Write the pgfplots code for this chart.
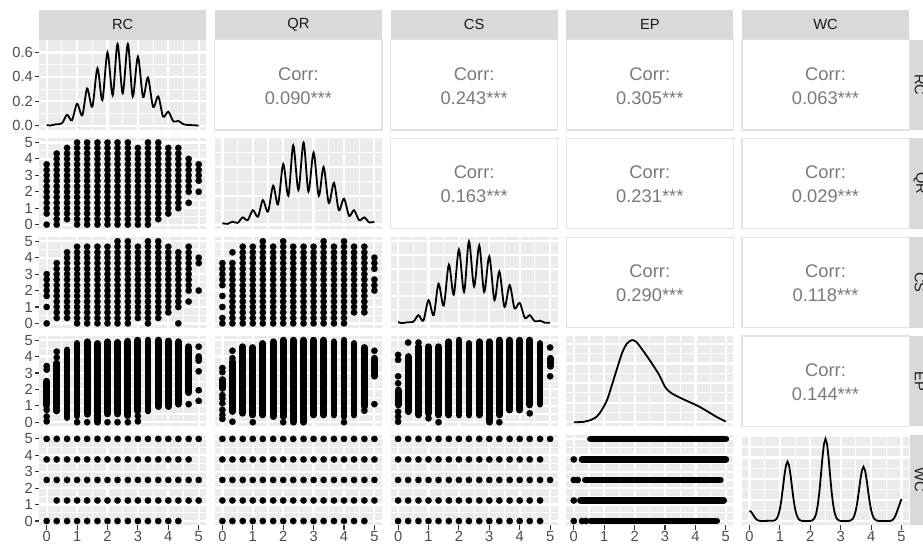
\documentclass[border=0pt]{standalone}
\usepackage{fontspec}
\setmainfont{Liberation Sans}
\usepackage{pgfplots}
\pgfplotsset{compat=1.18}

\definecolor{panelbg}{HTML}{EBEBEB}
\definecolor{stripbg}{HTML}{D9D9D9}
\definecolor{striptext}{HTML}{1A1A1A}
\definecolor{ticklab}{HTML}{4D4D4D}
\definecolor{tickcol}{HTML}{333333}
\definecolor{corrtext}{HTML}{7A7A7A}
\definecolor{corrframe}{HTML}{E2E2E2}

\pgfplotsset{
  cell/.style={
    scale only axis, width=167.2pt, height=90.3pt, anchor=north west,
    xmin=-0.25, xmax=5.25, ymin=-0.25, ymax=5.25,
    axis line style={draw=none},
    xtick={0,1,2,3,4,5}, ytick={0,1,2,3,4,5},
    minor xtick={0.5,1.5,2.5,3.5,4.5}, minor ytick={0.5,1.5,2.5,3.5,4.5},
    xticklabels={}, yticklabels={},
    xmajorticks=false, ymajorticks=false, xminorticks=false, yminorticks=false,
    xmajorgrids=true, ymajorgrids=true, xminorgrids=true, yminorgrids=true,
    major grid style={white, line width=2.2pt},
    minor grid style={white, line width=1.1pt},
    axis background/.style={fill=panelbg},
    tick align=outside, major tick length=4.6pt, minor tick length=0pt,
    tick style={tickcol, line width=1.1pt},
    ticklabel style={font=\fontsize{14.7}{17}\selectfont, text=ticklab, inner sep=1.5pt},
  },
  % density cells keep their own y grid
  diag/.style={yminorticks=false},
  leftcol/.style={ymajorticks=true, ytick pos=left, yticklabels={0,1,2,3,4,5}},
  bottomrow/.style={xmajorticks=true, xtick pos=bottom, xticklabels={0,1,2,3,4,5}},
  corrcell/.style={
    scale only axis, width=167.2pt, height=90.3pt, anchor=north west,
    xmin=0, xmax=1, ymin=0, ymax=1, xtick=\empty, ytick=\empty,
    axis line style={corrframe, line width=1.2pt},
    axis background/.style={fill=white},
  },
  dots/.style={only marks, mark=*, mark size=3.2pt,
    mark options={fill=black, draw=black, line width=0.2pt}},
  bars/.style={no marks, black, line width=6.8pt, line cap=round, unbounded coords=jump},
  dens/.style={no marks, black, line width=1.8pt},
}
\tikzset{
  corrlabel/.style={font=\fontsize{18.3}{20}\selectfont, text=corrtext, inner sep=0pt},
  striplabel/.style={font=\fontsize{14.7}{17}\selectfont, text=striptext},
}

% upper-triangle correlation cell: left edge, top edge, coefficient text
\newcommand\corrpanel[3]{%
  \begin{axis}[corrcell, at={(#1pt,-#2pt)}]
    \addplot[draw=none, forget plot] coordinates {(0.5,0.5)};
    \node[corrlabel, yshift=11pt] at (rel axis cs:0.5,0.5) {Corr:};
    \node[corrlabel, yshift=-13pt] at (rel axis cs:0.5,0.5) {#3};
  \end{axis}}

\begin{document}
\begin{tikzpicture}
\useasboundingbox (0pt,0pt) rectangle (923pt,-547pt);

% column strips
\foreach \cl/\lab in {39.1/RC, 214.8/QR, 390.5/CS, 566.2/EP, 741.9/WC} {
  \fill[stripbg] (\cl pt,-10pt) rectangle ({\cl pt+167.2pt},-39.6pt);
  \node[striplabel] at ({\cl pt+83.6pt},-24.8pt) {\lab};
}
% row strips, cut at the right edge
\begin{scope}
\clip (909pt,0pt) rectangle (923pt,-547pt);
\foreach \rt/\lab in {39.6/RC, 138.4/QR, 237.2/CS, 336.0/EP, 434.8/WC} {
  \fill[stripbg] (909.6pt,-\rt pt) rectangle (923pt,{-\rt pt-90.3pt});
  \node[striplabel, rotate=-90, overlay] at (920pt,{-\rt pt-45.15pt}) {\lab};
}
\end{scope}

%================ row 1 ================
\begin{axis}[cell, leftcol, at={(39.1pt,-39.6pt)},
  ymin=-0.034, ymax=0.705, ytick={0,0.2,0.4,0.6}, minor ytick={0.1,0.3,0.5}, diag,
  yticklabels={0.0,0.2,0.4,0.6}]
  \addplot[dens, smooth] coordinates {
    (0,0.006) (0.12,0.002) (0.3,0.012) (0.5,0.02) (0.67,0.09) (0.83,0.045)
    (1,0.18) (1.17,0.085) (1.33,0.305) (1.5,0.155) (1.67,0.47) (1.83,0.21)
    (2,0.6) (2.17,0.25) (2.33,0.67) (2.5,0.265) (2.67,0.67) (2.83,0.24)
    (3,0.565) (3.17,0.235) (3.33,0.395) (3.5,0.155) (3.67,0.24) (3.83,0.075)
    (4,0.115) (4.17,0.035) (4.33,0.04) (4.5,0.012) (4.7,0.006) (5,0.002)};
\end{axis}
\corrpanel{214.8}{39.6}{0.090***}
\corrpanel{390.5}{39.6}{0.243***}
\corrpanel{566.2}{39.6}{0.305***}
\corrpanel{741.9}{39.6}{0.063***}

%================ row 2 ================
\begin{axis}[cell, leftcol, at={(39.1pt,-138.4pt)}]
  \addplot[dots] coordinates {
    (0,0) (0,0.67) (0,1) (0,1.33) (0,1.67) (0,2) (0,2.33) (0,2.67) (0,3) (0,3.33) (0,3.67)
    (0.33,0) (0.33,0.33) (0.33,0.67) (0.33,1) (0.33,1.33) (0.33,1.67) (0.33,2) (0.33,2.33) (0.33,2.67) (0.33,3) (0.33,3.33) (0.33,3.67) (0.33,4) (0.33,4.33)
    (0.67,0.33) (0.67,0.67) (0.67,1) (0.67,1.33) (0.67,1.67) (0.67,2) (0.67,2.33) (0.67,2.67) (0.67,3) (0.67,3.33) (0.67,3.67) (0.67,4) (0.67,4.33) (0.67,4.67)
    (1,0) (1,0.33) (1,0.67) (1,1) (1,1.33) (1,1.67) (1,2) (1,2.33) (1,2.67) (1,3) (1,3.33) (1,3.67) (1,4) (1,4.33) (1,4.67) (1,5)
    (1.33,0) (1.33,0.33) (1.33,0.67) (1.33,1) (1.33,1.33) (1.33,1.67) (1.33,2) (1.33,2.33) (1.33,2.67) (1.33,3) (1.33,3.33) (1.33,3.67) (1.33,4) (1.33,4.33) (1.33,4.67) (1.33,5)
    (1.67,0) (1.67,0.33) (1.67,0.67) (1.67,1) (1.67,1.33) (1.67,1.67) (1.67,2) (1.67,2.33) (1.67,2.67) (1.67,3) (1.67,3.33) (1.67,3.67) (1.67,4) (1.67,4.33) (1.67,4.67) (1.67,5)
    (2,0) (2,0.33) (2,0.67) (2,1) (2,1.33) (2,1.67) (2,2) (2,2.33) (2,2.67) (2,3) (2,3.33) (2,3.67) (2,4) (2,4.33) (2,4.67) (2,5)
    (2.33,0) (2.33,0.33) (2.33,0.67) (2.33,1) (2.33,1.33) (2.33,1.67) (2.33,2) (2.33,2.33) (2.33,2.67) (2.33,3) (2.33,3.33) (2.33,3.67) (2.33,4) (2.33,4.33) (2.33,4.67) (2.33,5)
    (2.67,0) (2.67,0.33) (2.67,0.67) (2.67,1) (2.67,1.33) (2.67,1.67) (2.67,2) (2.67,2.33) (2.67,2.67) (2.67,3) (2.67,3.33) (2.67,3.67) (2.67,4) (2.67,4.33) (2.67,4.67) (2.67,5)
    (3,0) (3,0.33) (3,0.67) (3,1) (3,1.33) (3,1.67) (3,2) (3,2.33) (3,2.67) (3,3) (3,3.33) (3,3.67) (3,4) (3,4.33) (3,4.67)
    (3.33,0) (3.33,0.33) (3.33,0.67) (3.33,1) (3.33,1.33) (3.33,1.67) (3.33,2) (3.33,2.33) (3.33,2.67) (3.33,3) (3.33,3.33) (3.33,3.67) (3.33,4) (3.33,4.33) (3.33,4.67) (3.33,5)
    (3.67,0.33) (3.67,0.67) (3.67,1) (3.67,1.33) (3.67,1.67) (3.67,2) (3.67,2.33) (3.67,2.67) (3.67,3) (3.67,3.33) (3.67,3.67) (3.67,4) (3.67,4.33) (3.67,4.67) (3.67,5)
    (4,0.67) (4,1) (4,1.33) (4,1.67) (4,2) (4,2.33) (4,2.67) (4,3) (4,3.33) (4,3.67) (4,4) (4,4.33) (4,4.67)
    (4.33,1) (4.33,1.33) (4.33,1.67) (4.33,2) (4.33,2.33) (4.33,2.67) (4.33,3) (4.33,3.33) (4.33,3.67) (4.33,4) (4.33,4.33) (4.33,4.67)
    (4.67,1.33) (4.67,2) (4.67,2.33) (4.67,2.67) (4.67,3) (4.67,3.33) (4.67,3.67) (4.67,4)
    (5,2) (5,2.67) (5,3) (5,3.33) (5,3.67)};
\end{axis}
\begin{axis}[cell, at={(214.8pt,-138.4pt)},
  ymin=-0.0285, ymax=0.5985, ytick={0,0.2,0.4}, minor ytick={0.1,0.3,0.5}, diag]
  \addplot[dens, smooth] coordinates {
    (0,0.01) (0.17,0.005) (0.33,0.02) (0.5,0.012) (0.67,0.05) (0.83,0.03)
    (1,0.10) (1.17,0.055) (1.33,0.17) (1.5,0.09) (1.67,0.27) (1.83,0.14)
    (2,0.42) (2.17,0.2) (2.33,0.55) (2.5,0.24) (2.67,0.57) (2.83,0.23)
    (3,0.50) (3.17,0.2) (3.33,0.40) (3.5,0.15) (3.67,0.29) (3.83,0.1)
    (4,0.18) (4.17,0.06) (4.33,0.10) (4.5,0.03) (4.67,0.05) (4.83,0.015) (5,0.02)};
\end{axis}
\corrpanel{390.5}{138.4}{0.163***}
\corrpanel{566.2}{138.4}{0.231***}
\corrpanel{741.9}{138.4}{0.029***}

%================ row 3 ================
\begin{axis}[cell, leftcol, at={(39.1pt,-237.2pt)}]
  \addplot[dots] coordinates {
    (0,0) (0,1) (0,1.67) (0,2) (0,2.33) (0,2.67) (0,3)
    (0.33,0.33) (0.33,0.67) (0.33,1) (0.33,1.33) (0.33,1.67) (0.33,2) (0.33,2.33) (0.33,2.67) (0.33,3) (0.33,3.33) (0.33,3.67)
    (0.67,0.33) (0.67,0.67) (0.67,1) (0.67,1.33) (0.67,1.67) (0.67,2) (0.67,2.33) (0.67,2.67) (0.67,3) (0.67,3.33) (0.67,3.67) (0.67,4) (0.67,4.33)
    (1,0) (1,0.33) (1,0.67) (1,1) (1,1.33) (1,1.67) (1,2) (1,2.33) (1,2.67) (1,3) (1,3.33) (1,3.67) (1,4) (1,4.33) (1,4.67)
    (1.33,0) (1.33,0.33) (1.33,0.67) (1.33,1) (1.33,1.33) (1.33,1.67) (1.33,2) (1.33,2.33) (1.33,2.67) (1.33,3) (1.33,3.33) (1.33,3.67) (1.33,4) (1.33,4.33) (1.33,4.67)
    (1.67,0) (1.67,0.33) (1.67,0.67) (1.67,1) (1.67,1.33) (1.67,1.67) (1.67,2) (1.67,2.33) (1.67,2.67) (1.67,3) (1.67,3.33) (1.67,3.67) (1.67,4) (1.67,4.33) (1.67,4.67)
    (2,0) (2,0.33) (2,0.67) (2,1) (2,1.33) (2,1.67) (2,2) (2,2.33) (2,2.67) (2,3) (2,3.33) (2,3.67) (2,4) (2,4.33) (2,4.67)
    (2.33,0) (2.33,0.33) (2.33,0.67) (2.33,1) (2.33,1.33) (2.33,1.67) (2.33,2) (2.33,2.33) (2.33,2.67) (2.33,3) (2.33,3.33) (2.33,3.67) (2.33,4) (2.33,4.33) (2.33,4.67) (2.33,5)
    (2.67,0) (2.67,0.33) (2.67,0.67) (2.67,1) (2.67,1.33) (2.67,1.67) (2.67,2) (2.67,2.33) (2.67,2.67) (2.67,3) (2.67,3.33) (2.67,3.67) (2.67,4) (2.67,4.33) (2.67,4.67) (2.67,5)
    (3,0.33) (3,0.67) (3,1) (3,1.33) (3,1.67) (3,2) (3,2.33) (3,2.67) (3,3) (3,3.33) (3,3.67) (3,4) (3,4.33) (3,4.67)
    (3.33,0) (3.33,0.33) (3.33,0.67) (3.33,1) (3.33,1.33) (3.33,1.67) (3.33,2) (3.33,2.33) (3.33,2.67) (3.33,3) (3.33,3.33) (3.33,3.67) (3.33,4) (3.33,4.33) (3.33,4.67) (3.33,5)
    (3.67,0.33) (3.67,0.67) (3.67,1) (3.67,1.33) (3.67,1.67) (3.67,2) (3.67,2.33) (3.67,2.67) (3.67,3) (3.67,3.33) (3.67,3.67) (3.67,4) (3.67,4.33) (3.67,4.67) (3.67,5)
    (4,0.67) (4,1) (4,1.33) (4,1.67) (4,2) (4,2.33) (4,2.67) (4,3) (4,3.33) (4,3.67) (4,4) (4,4.33) (4,4.67)
    (4.33,0) (4.33,1) (4.33,1.33) (4.33,1.67) (4.33,2) (4.33,2.33) (4.33,2.67) (4.33,3) (4.33,3.33) (4.33,3.67) (4.33,4) (4.33,4.33)
    (4.67,1.33) (4.67,2) (4.67,2.33) (4.67,2.67) (4.67,3) (4.67,3.33) (4.67,3.67) (4.67,4) (4.67,4.33) (4.67,4.67)
    (5,2) (5,3.67) (5,4)};
\end{axis}
\begin{axis}[cell, at={(214.8pt,-237.2pt)}]
  \addplot[dots] coordinates {
    (0,0) (0,0.33) (0,1) (0,1.67) (0,2.33) (0,2.67) (0,3) (0,3.33) (0,3.67)
    (0.33,0) (0.33,0.33) (0.33,0.67) (0.33,1) (0.33,1.33) (0.33,1.67) (0.33,2) (0.33,2.33) (0.33,2.67) (0.33,3) (0.33,3.33) (0.33,3.67) (0.33,4.33)
    (0.67,0) (0.67,0.33) (0.67,0.67) (0.67,1) (0.67,1.33) (0.67,1.67) (0.67,2) (0.67,2.33) (0.67,2.67) (0.67,3) (0.67,3.33) (0.67,3.67) (0.67,4) (0.67,4.33) (0.67,4.67)
    (1,0) (1,0.33) (1,0.67) (1,1) (1,1.33) (1,1.67) (1,2) (1,2.33) (1,2.67) (1,3) (1,3.33) (1,3.67) (1,4) (1,4.33) (1,4.67)
    (1.33,0) (1.33,0.33) (1.33,0.67) (1.33,1) (1.33,1.33) (1.33,1.67) (1.33,2) (1.33,2.33) (1.33,2.67) (1.33,3) (1.33,3.33) (1.33,3.67) (1.33,4) (1.33,4.33) (1.33,4.67) (1.33,5)
    (1.67,0) (1.67,0.33) (1.67,0.67) (1.67,1) (1.67,1.33) (1.67,1.67) (1.67,2) (1.67,2.33) (1.67,2.67) (1.67,3) (1.67,3.33) (1.67,3.67) (1.67,4) (1.67,4.33) (1.67,4.67)
    (2,0) (2,0.33) (2,0.67) (2,1) (2,1.33) (2,1.67) (2,2) (2,2.33) (2,2.67) (2,3) (2,3.33) (2,3.67) (2,4) (2,4.33) (2,4.67) (2,5)
    (2.33,0) (2.33,0.33) (2.33,0.67) (2.33,1) (2.33,1.33) (2.33,1.67) (2.33,2) (2.33,2.33) (2.33,2.67) (2.33,3) (2.33,3.33) (2.33,3.67) (2.33,4) (2.33,4.33) (2.33,4.67)
    (2.67,0) (2.67,0.33) (2.67,0.67) (2.67,1) (2.67,1.33) (2.67,1.67) (2.67,2) (2.67,2.33) (2.67,2.67) (2.67,3) (2.67,3.33) (2.67,3.67) (2.67,4) (2.67,4.33) (2.67,4.67)
    (3,0) (3,0.33) (3,0.67) (3,1) (3,1.33) (3,1.67) (3,2) (3,2.33) (3,2.67) (3,3) (3,3.33) (3,3.67) (3,4) (3,4.33) (3,4.67)
    (3.33,0) (3.33,0.33) (3.33,0.67) (3.33,1) (3.33,1.33) (3.33,1.67) (3.33,2) (3.33,2.33) (3.33,2.67) (3.33,3) (3.33,3.33) (3.33,3.67) (3.33,4) (3.33,4.33) (3.33,4.67) (3.33,5)
    (3.67,0) (3.67,0.33) (3.67,0.67) (3.67,1) (3.67,1.33) (3.67,1.67) (3.67,2) (3.67,2.33) (3.67,2.67) (3.67,3) (3.67,3.33) (3.67,3.67) (3.67,4) (3.67,4.33) (3.67,4.67)
    (4,0) (4,0.33) (4,0.67) (4,1) (4,1.33) (4,1.67) (4,2) (4,2.33) (4,2.67) (4,3) (4,3.33) (4,3.67) (4,4) (4,4.33) (4,4.67) (4,5)
    (4.33,0.67) (4.33,1) (4.33,1.33) (4.33,1.67) (4.33,2) (4.33,2.33) (4.33,2.67) (4.33,3) (4.33,3.33) (4.33,3.67) (4.33,4) (4.33,4.33) (4.33,4.67)
    (4.67,0.67) (4.67,1) (4.67,1.33) (4.67,1.67) (4.67,2) (4.67,2.33) (4.67,2.67) (4.67,3) (4.67,3.33) (4.67,3.67) (4.67,4) (4.67,4.33) (4.67,4.67)
    (5,2) (5,2.33) (5,2.67) (5,3.33) (5,3.67) (5,4)};
\end{axis}
\begin{axis}[cell, at={(390.5pt,-237.2pt)},
  ymin=-0.03, ymax=0.63, ytick={0,0.2,0.4,0.6}, minor ytick={0.1,0.3,0.5}, diag]
  \addplot[dens, smooth] coordinates {
    (0,0.01) (0.12,0.002) (0.3,0.008) (0.5,0.012) (0.67,0.06) (0.83,0.02)
    (1,0.17) (1.17,0.06) (1.33,0.29) (1.5,0.13) (1.67,0.43) (1.83,0.21)
    (2,0.54) (2.17,0.23) (2.33,0.6) (2.5,0.27) (2.67,0.57) (2.83,0.23)
    (3,0.49) (3.17,0.17) (3.33,0.38) (3.5,0.12) (3.67,0.28) (3.83,0.11)
    (4,0.15) (4.17,0.04) (4.33,0.06) (4.5,0.015) (4.67,0.02) (4.83,0.005) (5,0.005)};
\end{axis}
\corrpanel{566.2}{237.2}{0.290***}
\corrpanel{741.9}{237.2}{0.118***}

%================ row 4 ================
\begin{axis}[cell, leftcol, at={(39.1pt,-336pt)}]
  \addplot[bars] coordinates {
    (0,1) (0,2.5) (0,nan)
    (0.33,0.68) (0.33,3.6) (0.33,nan)
    (0.67,0.28) (0.67,4.4) (0.67,nan)
    (1,0.38) (1,4.8) (1,nan)
    (1.33,0.48) (1.33,4.9) (1.33,nan)
    (1.67,0) (1.67,4.8) (1.67,nan)
    (2,0.5) (2,4.9) (2,nan)
    (2.33,0.5) (2.33,4.87) (2.33,nan)
    (2.67,0.4) (2.67,4.93) (2.67,nan)
    (3,0.68) (3,5) (3,nan)
    (3.33,0.68) (3.33,5) (3.33,nan)
    (3.67,0.95) (3.67,5) (3.67,nan)
    (4,0.95) (4,4.95) (4,nan)
    (4.33,1.1) (4.33,4.9) (4.33,nan)
    (4.67,1.8) (4.67,4.6)};
  \addplot[dots] coordinates {
    (0,0.05) (0,0.35) (0,0.75) (0,3.2) (0,3.42)
    (0.33,3.95) (0.33,4.3)
    (1,0) (1.33,0) (2,0) (2.33,0) (2.67,0) (3,0.05) (3,0.38)
    (4.67,1.1)
    (5,1.3) (5,1.95) (5,3.1) (5,3.75) (5,3.9) (5,4.0) (5,4.6)};
\end{axis}
\begin{axis}[cell, at={(214.8pt,-336pt)}]
  \addplot[bars] coordinates {
    (0,2.05) (0,2.6) (0,nan)
    (0.33,0.65) (0.33,3.68) (0.33,nan)
    (0.67,0.54) (0.67,4.6) (0.67,nan)
    (1,0.44) (1,4.55) (1,nan)
    (1.33,0.44) (1.33,4.8) (1.33,nan)
    (1.67,0.34) (1.67,4.9) (1.67,nan)
    (2,0.34) (2,5) (2,nan)
    (2.33,0) (2.33,5) (2.33,nan)
    (2.67,0) (2.67,5) (2.67,nan)
    (3,0.44) (3,5) (3,nan)
    (3.33,0.44) (3.33,5) (3.33,nan)
    (3.67,0.44) (3.67,4.9) (3.67,nan)
    (4,0.34) (4,5) (4,nan)
    (4.33,0.44) (4.33,4.8) (4.33,nan)
    (4.67,0.95) (4.67,4.55) (4.67,nan)
    (5,2.8) (5,3.9)};
  \addplot[dots] coordinates {
    (0,0.2) (0,0.45) (0,0.75) (0,1.15) (0,1.45) (0,1.65) (0,3.05) (0,3.3)
    (0.33,0.03) (0.33,3.9) (0.33,4.35)
    (1,0) (2,0) (4,0) (4.67,0.7)
    (5,1.1) (5,4.35)};
\end{axis}
\begin{axis}[cell, at={(390.5pt,-336pt)}]
  \addplot[bars] coordinates {
    (0,1.05) (0,1.96) (0,nan)
    (0.33,0.64) (0.33,4.0) (0.33,nan)
    (0.67,0.44) (0.67,4.6) (0.67,nan)
    (1,0.54) (1,4.6) (1,nan)
    (1.33,0.44) (1.33,4.6) (1.33,nan)
    (1.67,0.44) (1.67,4.9) (1.67,nan)
    (2,0.44) (2,5) (2,nan)
    (2.33,0.44) (2.33,4.8) (2.33,nan)
    (2.67,0.44) (2.67,4.9) (2.67,nan)
    (3,0) (3,4.9) (3,nan)
    (3.33,0.44) (3.33,5) (3.33,nan)
    (3.67,0.74) (3.67,5) (3.67,nan)
    (4,0.74) (4,5) (4,nan)
    (4.33,1.05) (4.33,5) (4.33,nan)
    (4.67,1.1) (4.67,4.8) (4.67,nan)
    (5,3.4) (5,3.9)};
  \addplot[dots] coordinates {
    (0,0.03) (0,0.34) (0,0.64) (0,2.37) (0,2.8) (0,3.8) (0,4.1)
    (0.33,4.85) (0.67,4.85) (1,0.24) (1.33,0) (3.33,0) (4.33,0.54)
    (5,2.8) (5,4.55)};
\end{axis}
\begin{axis}[cell, at={(566.2pt,-336pt)},
  ymin=-0.021, ymax=0.441, ytick={0,0.1,0.2,0.3,0.4}, minor ytick={0.05,0.15,0.25,0.35}, diag]
  \addplot[dens, smooth] coordinates {
    (0,0) (0.33,0.002) (0.6,0.014) (0.77,0.031) (0.93,0.065) (1.1,0.116)
    (1.26,0.193) (1.43,0.278) (1.59,0.355) (1.75,0.403) (1.92,0.42) (2.06,0.41)
    (2.25,0.372) (2.52,0.312) (2.8,0.244) (3.02,0.176) (3.23,0.147) (3.62,0.116)
    (4.06,0.085) (4.39,0.056) (4.71,0.026) (5,0.003)};
\end{axis}
\corrpanel{741.9}{336}{0.144***}

%================ row 5 ================
\begin{axis}[cell, leftcol, bottomrow, at={(39.1pt,-434.8pt)}]
  \addplot[dots] coordinates {
    (0,5) (0.33,5) (0.67,5) (1,5) (1.33,5) (1.67,5) (2,5) (2.33,5) (2.67,5) (3,5) (3.33,5) (3.67,5) (4,5) (4.33,5) (4.67,5) (5,5)
    (0,3.75) (0.33,3.75) (0.67,3.75) (1,3.75) (1.33,3.75) (1.67,3.75) (2,3.75) (2.33,3.75) (2.67,3.75) (3,3.75) (3.33,3.75) (3.67,3.75) (4,3.75) (4.33,3.75) (4.67,3.75)
    (0,2.5) (0.33,2.5) (0.67,2.5) (1,2.5) (1.33,2.5) (1.67,2.5) (2,2.5) (2.33,2.5) (2.67,2.5) (3,2.5) (3.33,2.5) (3.67,2.5) (4,2.5) (4.33,2.5) (4.67,2.5) (5,2.5)
    (0.33,1.25) (0.67,1.25) (1,1.25) (1.33,1.25) (1.67,1.25) (2,1.25) (2.33,1.25) (2.67,1.25) (3,1.25) (3.33,1.25) (3.67,1.25) (4,1.25) (4.33,1.25) (4.67,1.25) (5,1.25)
    (0,0) (0.33,0) (0.67,0) (1,0) (1.33,0) (1.67,0) (2,0) (2.33,0) (2.67,0) (3,0) (3.33,0) (3.67,0) (4,0) (4.33,0)};
\end{axis}
\begin{axis}[cell, bottomrow, at={(214.8pt,-434.8pt)}]
  \addplot[dots] coordinates {
    (0,5) (0.33,5) (0.67,5) (1,5) (1.33,5) (1.67,5) (2,5) (2.33,5) (2.67,5) (3,5) (3.33,5) (3.67,5) (4,5) (4.33,5) (4.67,5) (5,5)
    (0,3.75) (0.33,3.75) (0.67,3.75) (1,3.75) (1.33,3.75) (1.67,3.75) (2,3.75) (2.33,3.75) (2.67,3.75) (3,3.75) (3.33,3.75) (3.67,3.75) (4,3.75) (4.33,3.75) (4.67,3.75) (5,3.75)
    (0,2.5) (0.33,2.5) (0.67,2.5) (1,2.5) (1.33,2.5) (1.67,2.5) (2,2.5) (2.33,2.5) (2.67,2.5) (3,2.5) (3.33,2.5) (3.67,2.5) (4,2.5) (4.33,2.5) (4.67,2.5) (5,2.5)
    (0,1.25) (0.33,1.25) (0.67,1.25) (1,1.25) (1.33,1.25) (1.67,1.25) (2,1.25) (2.33,1.25) (2.67,1.25) (3,1.25) (3.33,1.25) (3.67,1.25) (4,1.25) (4.33,1.25) (4.67,1.25) (5,1.25)
    (0,0) (0.33,0) (0.67,0) (1,0) (1.33,0) (1.67,0) (2,0) (2.33,0) (2.67,0) (3,0) (3.33,0) (3.67,0) (4,0) (4.33,0) (4.67,0)};
\end{axis}
\begin{axis}[cell, bottomrow, at={(390.5pt,-434.8pt)}]
  \addplot[dots] coordinates {
    (0,5) (0.33,5) (0.67,5) (1,5) (1.33,5) (1.67,5) (2,5) (2.33,5) (2.67,5) (3,5) (3.33,5) (3.67,5) (4,5) (4.33,5) (4.67,5) (5,5)
    (0,3.75) (0.33,3.75) (0.67,3.75) (1,3.75) (1.33,3.75) (1.67,3.75) (2,3.75) (2.33,3.75) (2.67,3.75) (3,3.75) (3.33,3.75) (3.67,3.75) (4,3.75) (4.33,3.75) (4.67,3.75)
    (0,2.5) (0.33,2.5) (0.67,2.5) (1,2.5) (1.33,2.5) (1.67,2.5) (2,2.5) (2.33,2.5) (2.67,2.5) (3,2.5) (3.33,2.5) (3.67,2.5) (4,2.5) (4.33,2.5) (4.67,2.5) (5,2.5)
    (0,1.25) (0.33,1.25) (0.67,1.25) (1,1.25) (1.33,1.25) (1.67,1.25) (2,1.25) (2.33,1.25) (2.67,1.25) (3,1.25) (3.33,1.25) (3.67,1.25) (4,1.25) (4.33,1.25) (4.67,1.25)
    (0,0) (0.33,0) (0.67,0) (1,0) (1.33,0) (1.67,0) (2,0) (2.33,0) (2.67,0) (3,0) (3.33,0) (3.67,0) (4,0) (4.33,0) (4.67,0)};
\end{axis}
\begin{axis}[cell, bottomrow, at={(566.2pt,-434.8pt)}]
  \addplot[bars] coordinates {
    (0.55,5) (5,5) (0,nan)
    (0.27,3.75) (5,3.75) (0,nan)
    (0.38,2.5) (4.82,2.5) (0,nan)
    (0.22,1.25) (4.93,1.25) (0,nan)
    (0.55,0) (4.7,0)};
  \addplot[dots] coordinates {
    (0,3.75) (0,2.5) (0.13,2.5) (0,1.25) (0,0) (0.27,0) (0.4,0)};
\end{axis}
\begin{axis}[cell, bottomrow, at={(741.9pt,-434.8pt)},
  ymin=-0.0485, ymax=1.0185, ytick={0,0.25,0.5,0.75,1}, minor ytick={0.125,0.375,0.625,0.875}, diag]
  \addplot[dens] coordinates {
    (0,0.12) (0.05,0.11) (0.1,0.085) (0.15,0.055) (0.2,0.03) (0.25,0.013) (0.3,0.005) (0.35,0.001) (0.4,0)
    (0.8,0.004) (0.85,0.012) (0.9,0.031) (0.95,0.071) (1,0.142) (1.05,0.252) (1.1,0.394) (1.15,0.543) (1.2,0.657)
    (1.25,0.70) (1.3,0.657) (1.35,0.543) (1.4,0.394) (1.45,0.252) (1.5,0.142) (1.55,0.071) (1.6,0.031) (1.65,0.012) (1.7,0.004) (1.75,0)
    (2,0) (2.05,0.006) (2.1,0.016) (2.15,0.043) (2.2,0.098) (2.25,0.197) (2.3,0.349) (2.35,0.546) (2.4,0.752) (2.45,0.910)
    (2.5,0.97) (2.55,0.910) (2.6,0.752) (2.65,0.546) (2.7,0.349) (2.75,0.197) (2.8,0.098) (2.85,0.043) (2.9,0.016) (2.95,0.006) (3,0)
    (3.25,0) (3.3,0.004) (3.35,0.011) (3.4,0.028) (3.45,0.065) (3.5,0.130) (3.55,0.230) (3.6,0.360) (3.65,0.496) (3.7,0.600)
    (3.75,0.64) (3.8,0.600) (3.85,0.496) (3.9,0.360) (3.95,0.230) (4,0.130) (4.05,0.065) (4.1,0.028) (4.15,0.011) (4.2,0.004) (4.25,0)
    (4.6,0) (4.65,0.003) (4.7,0.01) (4.75,0.03) (4.8,0.063) (4.85,0.11) (4.9,0.16) (4.95,0.21) (5,0.26)};
\end{axis}
\end{tikzpicture}
\end{document}
